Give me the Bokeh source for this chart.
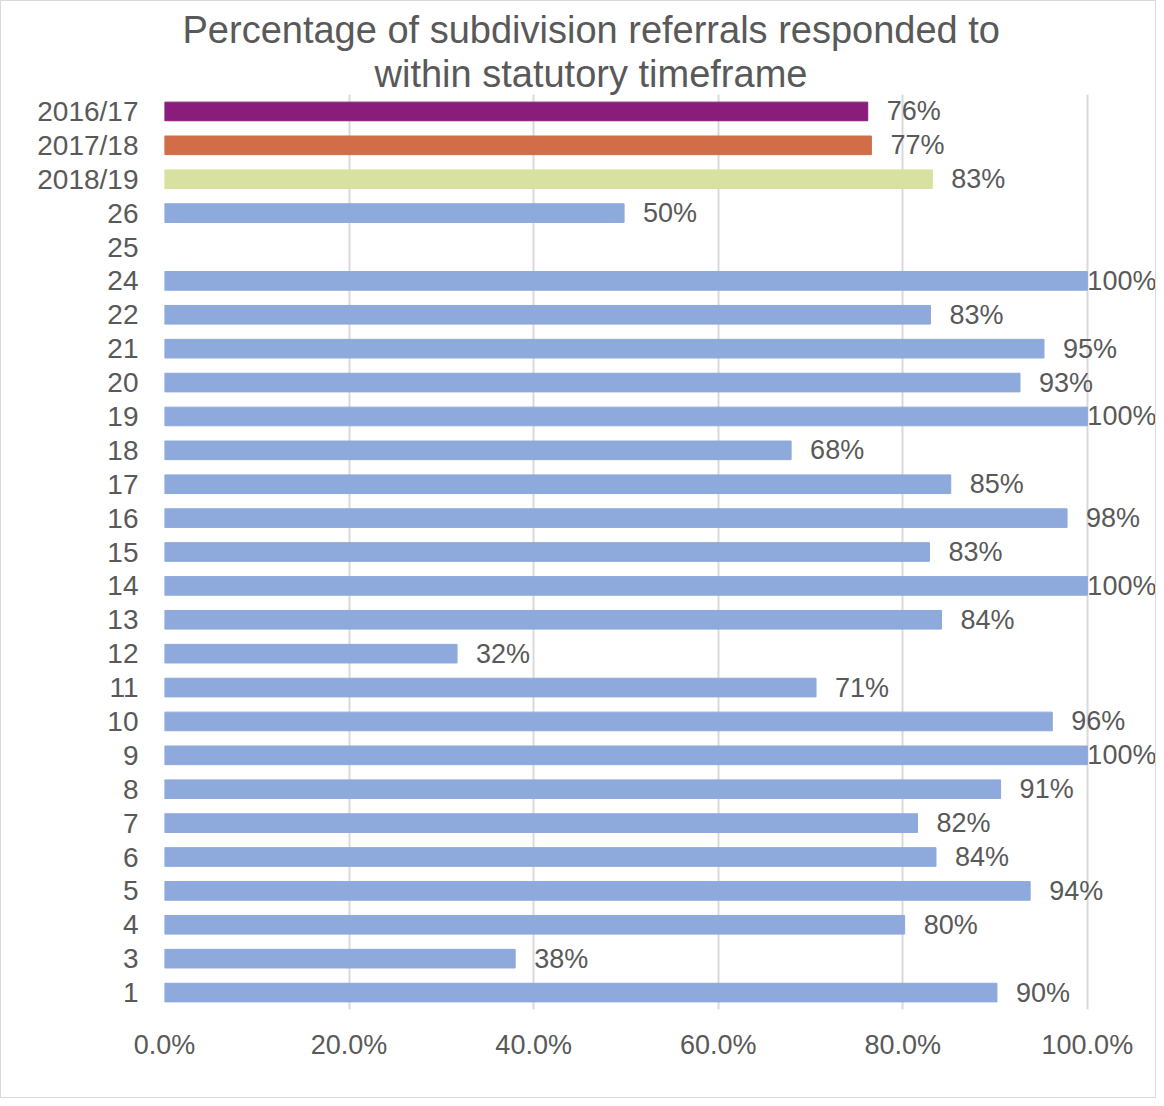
from bokeh.plotting import figure
from bokeh.models import (ColumnDataSource, FactorRange, Range1d, FixedTicker,
                          PrintfTickFormatter, Title, LabelSet)
from bokeh.core.properties import value
from bokeh.embed import file_html
from bokeh.resources import INLINE

# ---- data (top to bottom as shown) ----
categories = ["2016/17", "2017/18", "2018/19", "26", "25", "24", "22", "21", "20", "19",
              "18", "17", "16", "15", "14", "13", "12", "11", "10", "9", "8", "7", "6",
              "5", "4", "3", "1"]
percent = [76.2, 76.6, 83.2, 49.8, None, 100, 83.0, 95.3, 92.7, 100,
           67.9, 85.2, 97.8, 82.9, 100, 84.2, 31.7, 70.6, 96.2, 100, 90.6, 81.6, 83.6,
           93.8, 80.2, 38.0, 90.2]
x_ticks = [0, 20, 40, 60, 80, 100]
title_line1 = "Percentage of subdivision referrals responded to"
title_line2 = "within statutory timeframe"

special_colors = {"2016/17": "#8A1C7C", "2017/18": "#D16E48", "2018/19": "#D8E1A0"}
blue = "#8EA9DB"
text_gray = "#595959"
font = "Liberation Sans"

cats, vals, cols, labels, offs = [], [], [], [], []
for c, v in zip(categories, percent):
    if v is None:
        continue
    cats.append(c)
    vals.append(v)
    cols.append(special_colors.get(c, blue))
    labels.append("%d%%" % int(v + 0.5))
    offs.append(0 if v >= 99.5 else 19)

src = ColumnDataSource(dict(cat=cats, val=vals, col=cols, lab=labels, off=offs))

# x range extends a little past 100% so that the value labels have room (no gridline there)
p = figure(width=1156, height=1098, output_backend="svg", toolbar_location=None,
           y_range=FactorRange(factors=list(reversed(categories))),
           x_range=Range1d(0, 107.6),
           min_border_left=163, min_border_right=0, min_border_top=93, min_border_bottom=90)
p.title = None

# two title lines, each centred around the same point
p.add_layout(Title(text=title_line2, align="left", offset=210, text_font_size="38px",
                   text_color=text_gray, text_font_style="normal", text_font=font,
                   standoff=0), "above")
p.add_layout(Title(text=title_line1, align="left", offset=18, text_font_size="38px",
                   text_color=text_gray, text_font_style="normal", text_font=font,
                   standoff=0), "above")

p.hbar(y="cat", left=0, right="val", height=0.55, color="col", source=src)
p.add_layout(LabelSet(x="val", y="cat", text="lab", x_offset="off", source=src,
                      text_align="left", text_baseline="middle",
                      text_font_size=value("27px"), text_color=text_gray,
                      text_font=value(font)))

p.outline_line_color = None
p.border_fill_color = "white"
p.styles = {"border": "1px solid #d9d9d9"}

p.xaxis.ticker = FixedTicker(ticks=x_ticks)
p.xaxis.formatter = PrintfTickFormatter(format="%.1f%%")
for ax in (p.xaxis[0], p.yaxis[0]):
    ax.axis_line_color = None
    ax.major_tick_line_color = None
    ax.minor_tick_line_color = None
    ax.major_tick_out = 0
    ax.major_tick_in = 0
    ax.minor_tick_out = 0
    ax.major_label_text_color = text_gray
    ax.major_label_text_font = font
p.xaxis.major_label_text_font_size = "27px"
p.yaxis.major_label_text_font_size = "28px"
p.xaxis.major_label_standoff = 20
p.yaxis.major_label_standoff = 26

p.xgrid.ticker = FixedTicker(ticks=x_ticks)
p.xgrid.grid_line_color = "#D9D9D9"
p.xgrid.grid_line_width = 2
p.ygrid.grid_line_color = None

open("out.html", "w").write(file_html(p, INLINE))
